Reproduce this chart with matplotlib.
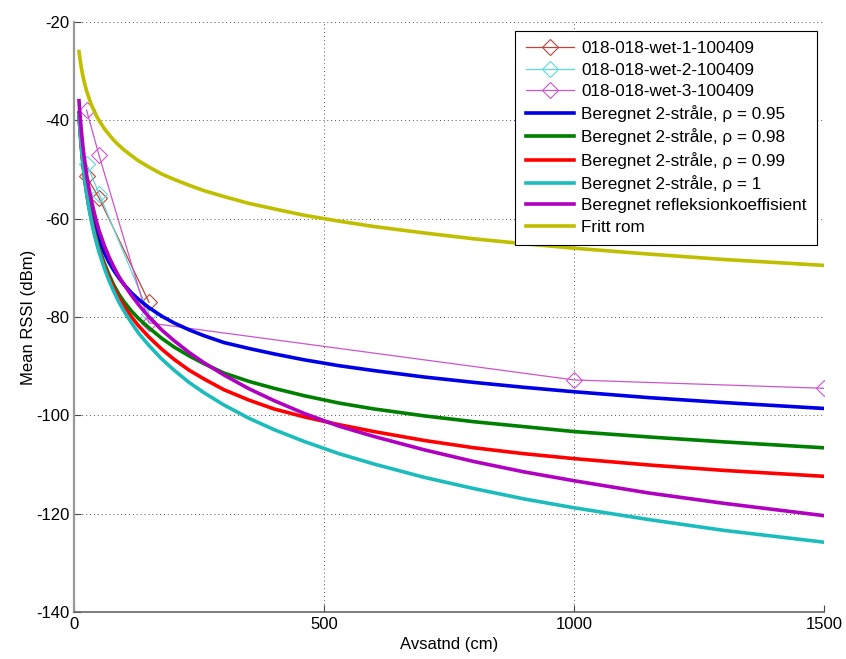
import matplotlib

matplotlib.use("Agg")

import matplotlib.pyplot as plt

plt.rcParams["font.family"] = ["Liberation Sans", "DejaVu Sans"]
plt.rcParams["font.size"] = 12
plt.rcParams["axes.unicode_minus"] = False

# measured mean RSSI (dBm) at each distance (cm)
wet1_x = [25, 50, 150]
wet1_y = [-51.4, -55.8, -77.0]
wet2_x = [25, 50, 150]
wet2_y = [-48.8, -54.9, -79.3]
wet3_x = [25, 50, 150, 1000, 1500]
wet3_y = [-37.9, -47.1, -81.2, -92.8, -94.5]

# computed curves at these distances (cm)
dist = [10, 11, 12, 14, 16, 18, 20, 23, 26, 30, 35, 40, 45, 50, 60, 70, 80, 90,
        100, 115, 130, 150, 175, 200, 230, 260, 300, 350, 400, 460, 530, 600,
        700, 800, 900, 1000, 1150, 1300, 1500]
rho_095 = [-38.5, -40.1, -41.6, -44.1, -46.4, -48.3, -50.0, -52.3, -54.3, -56.5,
           -58.9, -60.9, -62.7, -64.3, -66.8, -68.9, -70.6, -72.1, -73.4, -75.1,
           -76.5, -78.1, -79.8, -81.2, -82.6, -83.8, -85.2, -86.4, -87.5, -88.7,
           -89.9, -90.9, -92.2, -93.3, -94.3, -95.2, -96.4, -97.4, -98.6]
rho_098 = [-38.7, -40.4, -41.9, -44.5, -46.8, -48.8, -50.6, -53.0, -55.1, -57.5,
           -60.1, -62.3, -64.2, -66.0, -68.9, -71.4, -73.6, -75.4, -76.9, -78.8,
           -80.4, -82.2, -84.3, -86.1, -87.9, -89.5, -91.4, -93.1, -94.5, -96.0,
           -97.5, -98.7, -100.1, -101.3, -102.3, -103.3, -104.4, -105.4, -106.6]
rho_099 = [-38.8, -40.5, -42.0, -44.6, -47.0, -49.0, -50.8, -53.2, -55.3, -57.7,
           -60.3, -62.6, -64.6, -66.4, -69.4, -72.0, -74.2, -76.1, -77.8, -80.0,
           -81.9, -84.1, -86.5, -88.6, -90.8, -92.6, -94.8, -96.9, -98.7, -100.3,
           -101.9, -103.3, -105.1, -106.6, -107.8, -108.8, -110.1, -111.2, -112.4]
rho_1 = [-38.8, -40.5, -42.0, -44.6, -47.0, -49.0, -50.8, -53.3, -55.4, -57.9,
         -60.6, -62.9, -64.9, -66.8, -69.9, -72.6, -74.9, -77.0, -78.8, -81.2,
         -83.4, -85.8, -88.5, -90.8, -93.3, -95.4, -97.9, -100.6, -102.9, -105.3,
         -107.8, -109.9, -112.6, -114.9, -117.0, -118.8, -121.2, -123.4, -125.8]
rho_calc = [-36.0, -37.6, -38.9, -41.3, -43.5, -45.5, -47.2, -49.5, -51.6, -53.9,
            -56.4, -58.6, -60.6, -62.4, -65.3, -67.8, -69.9, -71.8, -73.4, -75.6,
            -77.6, -80.0, -82.6, -84.8, -87.2, -89.3, -91.8, -94.6, -97.0, -99.6,
            -102.2, -104.3, -107.0, -109.4, -111.5, -113.3, -115.8, -117.9, -120.4]
free_space = [-26.0, -26.8, -27.6, -28.9, -30.1, -31.1, -32.0, -33.2, -34.3, -35.5,
              -36.9, -38.0, -39.1, -40.0, -41.6, -42.9, -44.1, -45.1, -46.0, -47.2,
              -48.3, -49.5, -50.9, -52.0, -53.2, -54.3, -55.5, -56.9, -58.0, -59.3,
              -60.5, -61.6, -62.9, -64.1, -65.1, -66.0, -67.2, -68.3, -69.5]

fig = plt.figure(figsize=(8.46, 6.59), dpi=100)
ax = fig.add_axes([0.0875, 0.0713, 0.8865, 0.8953])

mk = dict(marker="D", ms=8, mfc="none", lw=0.9, mew=0.8)
ax.plot(wet1_x, wet1_y, color="#b9463c", label="018-018-wet-1-100409", **mk)
ax.plot(wet2_x, wet2_y, color="#5fd8d8", label="018-018-wet-2-100409", **mk)
ax.plot(wet3_x, wet3_y, color="#cc55cc", label="018-018-wet-3-100409", **mk)

lw = 2.6
ax.plot(dist, rho_095, color="#0000e6", lw=lw, label="Beregnet 2-stråle, ρ = 0.95")
ax.plot(dist, rho_098, color="#008000", lw=lw, label="Beregnet 2-stråle, ρ = 0.98")
ax.plot(dist, rho_099, color="#ff0000", lw=lw, label="Beregnet 2-stråle, ρ = 0.99")
ax.plot(dist, rho_1, color="#1cbcbc", lw=lw, label="Beregnet 2-stråle, ρ = 1")
ax.plot(dist, rho_calc, color="#b000c0", lw=lw, label="Beregnet refleksionkoeffisient")
ax.plot(dist, free_space, color="#bfbf00", lw=lw, label="Fritt rom")

ax.set_xlim(0, 1500)
ax.set_ylim(-140, -20)
ax.set_xticks([0, 500, 1000, 1500])
ax.set_yticks(range(-140, -19, 20))
ax.grid(True, linestyle=(0, (1, 3)), color="#555555", lw=0.7)
ax.tick_params(direction="in", length=5, color="#444444", labelsize=12)
for side in ("top", "right"):
    ax.spines[side].set_visible(False)
ax.spines["left"].set_color("#999999")
ax.spines["left"].set_linewidth(1.6)
ax.spines["bottom"].set_color("#666666")
ax.spines["bottom"].set_linewidth(1.2)

ax.set_xlabel("Avsatnd (cm)", labelpad=4)
ax.set_ylabel("Mean RSSI (dBm)", labelpad=0)

leg = ax.legend(loc="upper right", bbox_to_anchor=(817 / 846, 1 - 31 / 659),
                bbox_transform=fig.transFigure, borderaxespad=0, fancybox=False,
                framealpha=1, edgecolor="black", handlelength=2.85,
                labelspacing=0.37, borderpad=0.6, handletextpad=0.4, fontsize=12.3)
leg.get_frame().set_linewidth(0.8)

fig.savefig("out.png", dpi=100)
